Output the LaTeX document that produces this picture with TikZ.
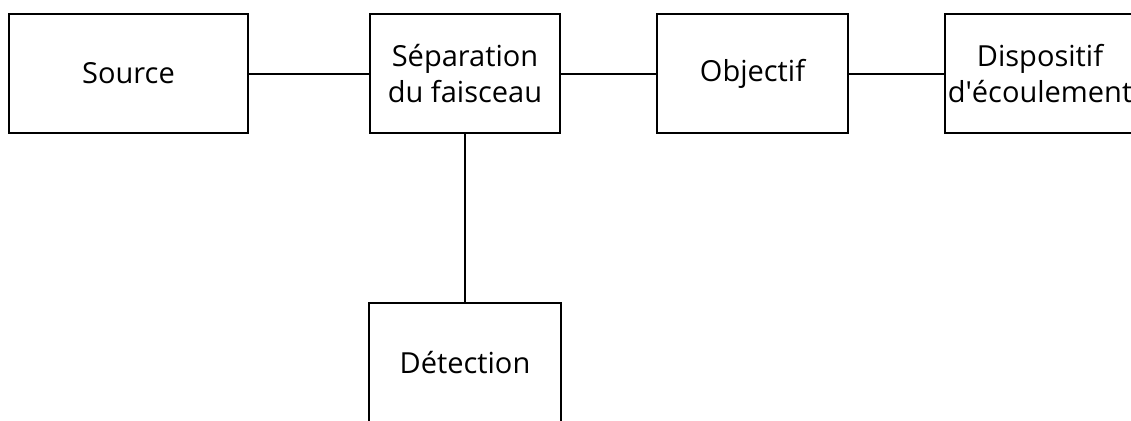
\documentclass[tikz,border=0pt]{standalone}
\usepackage{fontspec}
\setmainfont{Open Sans}
\tikzset{
  bloc/.style={draw, line width=2.2pt, minimum width=#1, minimum height=119pt,
    inner sep=0pt, align=center, font=\fontsize{29}{36}\selectfont},
  lien/.style={line width=2pt}
}
\begin{document}
\begin{tikzpicture}[x=1pt, y=-1pt]
  \clip (0,0) rectangle (1131,420);
  \fill[white] (0,0) rectangle (1131,420);
  % chaine optique
  \foreach \x / \w / \nom / \txt in {128.5/239/source/Source, 465/190/separation/Séparation\\du faisceau,
                                     752.5/191/objectif/Objectif, 1040/190/dispositif/Dispositif\\d\textquotesingle écoulement} {
    \node[bloc=\w pt] (\nom) at (\x, 73.5) {\txt};
  }
  \node[bloc=192pt] (detection) at (465, 362.5) {Détection};
  \draw[lien] (source) -- (separation);
  \draw[lien] (separation) -- (objectif);
  \draw[lien] (objectif) -- (dispositif);
  \draw[lien] (separation) -- (detection);
\end{tikzpicture}
\end{document}
